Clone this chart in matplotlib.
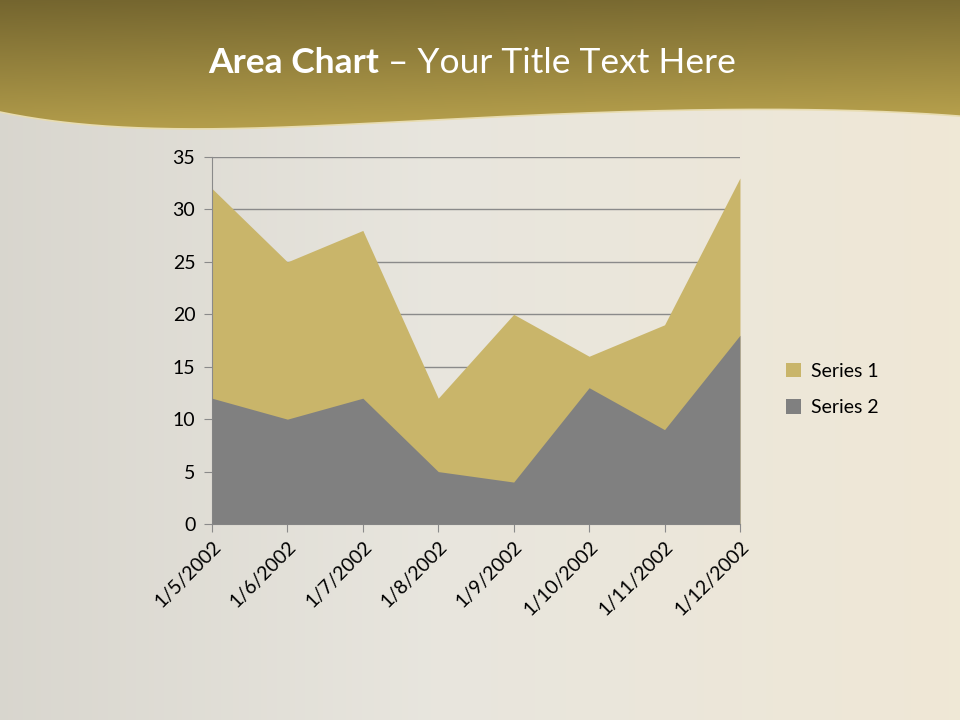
import numpy as np
import matplotlib
matplotlib.use("Agg")
import matplotlib.pyplot as plt
from matplotlib.patches import Polygon

categories = ["1/5/2002", "1/6/2002", "1/7/2002", "1/8/2002",
              "1/9/2002", "1/10/2002", "1/11/2002", "1/12/2002"]
series1 = [32, 25, 28, 12, 20, 16, 19, 33]
series2 = [12, 10, 12, 5, 4, 13, 9, 18]
yticks = [0, 5, 10, 15, 20, 25, 30, 35]

plt.rcParams['font.family'] = ['Lato', 'DejaVu Sans']

fig = plt.figure(figsize=(9.6, 7.2), dpi=100)

# background
bg = fig.add_axes([0, 0, 1, 1])
bg.set_xlim(0, 960)
bg.set_ylim(720, 0)
bg.axis('off')
W, H = 960, 720
xs = np.linspace(0, 1, W)
ys = np.linspace(0, 1, H)
X, Y = np.meshgrid(xs, ys)
left = np.array([0.85, 0.84, 0.81])
mid = np.array([0.91, 0.90, 0.87])
right = np.array([0.94, 0.91, 0.84])
w = X
t1 = np.clip(w / 0.45, 0, 1)[..., None]
t2 = np.clip((w - 0.45) / 0.55, 0, 1)[..., None]
img = np.where((w < 0.45)[..., None], left * (1 - t1) + mid * t1, mid * (1 - t2) + right * t2)
bg.imshow(img, extent=[0, 960, 720, 0], aspect='auto', zorder=0)

# top band with wave
top_dark = np.array([0.47, 0.41, 0.19])
top_light = np.array([0.74, 0.65, 0.31])
yy = np.linspace(0, 1, 140)[:, None, None]
xx = np.linspace(0, 1, W)[None, :, None]
band = top_dark * (1 - yy) + top_light * yy
band = np.clip(band * (0.97 + 0.06 * xx), 0, 1)
im = bg.imshow(band, extent=[0, 960, 140, 0], aspect='auto', zorder=1)
px = np.array([0, 80, 200, 350, 500, 650, 780, 880, 960])
py = np.array([112, 124, 129, 124, 117, 111, 109, 112, 116])
coef = np.polyfit(px / 960, py, 5)
wx = np.linspace(0, 960, 300)
wy = np.polyval(coef, wx / 960)
verts = np.concatenate([np.column_stack([wx, wy]), [[960, 0], [0, 0]]])
clip = Polygon(verts, closed=True, transform=bg.transData)
im.set_clip_path(clip)
bg.plot(wx, wy, color='#e8dcb0', lw=1.2, zorder=2)

t1 = fig.text(0.4, 0.912, "Area Chart", fontsize=25.5, fontweight='bold', color='white',
              ha='right', va='center')
t2 = fig.text(0.4, 0.912, " – Your Title Text Here", fontsize=25.5, color='white',
              ha='left', va='center')

ax = fig.add_axes([0.2208, 0.2722, 0.55, 0.5097])
ax.patch.set_alpha(0)
x = np.arange(len(categories))
ax.fill_between(x, 0, series1, color='#c9b56a', lw=0, zorder=2, label='Series 1')
ax.fill_between(x, 0, series2, color='#808080', lw=0, zorder=3, label='Series 2')
ax.set_xlim(0, len(categories) - 1)
ax.set_ylim(0, 35)
ax.set_yticks(yticks)
ax.set_xticks(x)
ax.set_xticklabels(categories, rotation=45, ha='right', rotation_mode='anchor')
ax.grid(axis='y', color='#8a8a8a', lw=1, zorder=1)
for s in ['top', 'right']:
    ax.spines[s].set_visible(False)
for s in ['left', 'bottom']:
    ax.spines[s].set_color('#8a8a8a')
ax.tick_params(axis='both', colors='#8a8a8a', labelcolor='black', labelsize=14, length=6)
ax.tick_params(axis='x', pad=4)
ax.tick_params(axis='y', pad=6)
ax.set_axisbelow(True)

fig.legend(handles=ax.get_legend_handles_labels()[0],
           labels=['Series 1', 'Series 2'],
           loc='center left', bbox_to_anchor=(0.8, 0.459), frameon=False,
           fontsize=14, handlelength=0.8, handleheight=0.8, labelspacing=1.0,
           handletextpad=0.5)

fig.canvas.draw()
r = fig.canvas.get_renderer()
b1 = t1.get_window_extent(r)
b2 = t2.get_window_extent(r)
total = b1.width + b2.width
start = 472 / 960 - total / 2 / 960
t1.set_x(start + b1.width / 960)
t2.set_x(start + b1.width / 960)

fig.savefig("out.png", dpi=100)
